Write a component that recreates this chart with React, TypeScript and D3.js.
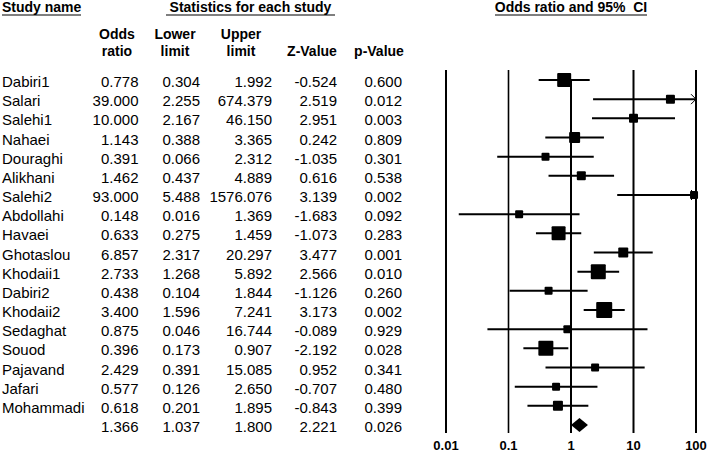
import React from "react";
import * as d3 from "d3";

const studies = ["Dabiri1","Salari","Salehi1","Nahaei","Douraghi","Alikhani","Salehi2","Abdollahi","Havaei","Ghotaslou","Khodaii1","Dabiri2","Khodaii2","Sedaghat","Souod","Pajavand","Jafari","Mohammadi",""];
const oddsRatio = [0.778,39.0,10.0,1.143,0.391,1.462,93.0,0.148,0.633,6.857,2.733,0.438,3.4,0.875,0.396,2.429,0.577,0.618,1.366];
const lowerLimit = [0.304,2.255,2.167,0.388,0.066,0.437,5.488,0.016,0.275,2.317,1.268,0.104,1.596,0.046,0.173,0.391,0.126,0.201,1.037];
const upperLimit = [1.992,674.379,46.15,3.365,2.312,4.889,1576.076,1.369,1.459,20.297,5.892,1.844,7.241,16.744,0.907,15.085,2.65,1.895,1.8];
const zValue = [-0.524,2.519,2.951,0.242,-1.035,0.616,3.139,-1.683,-1.073,3.477,2.566,-1.126,3.173,-0.089,-2.192,0.952,-0.707,-0.843,2.221];
const pValue = [0.6,0.012,0.003,0.809,0.301,0.538,0.002,0.092,0.283,0.001,0.01,0.26,0.002,0.929,0.028,0.341,0.48,0.399,0.026];
const markerWeight = [14,9,9,11,8,9,8,8,14,10,15,8,16,8,15,8,8,10];
const tickValues = [0.01,0.1,1,10,100];
const tickLabels = ["0.01","0.1","1","10","100"];

const FONT = "'Liberation Sans', Arial, sans-serif";

export default function App() {
  const x = d3.scaleLog().domain([0.01, 100]).range([446, 696]);
  const y = d3.scalePoint<number>().domain(d3.range(studies.length)).range([80, 425]);
  const nStudies = studies.length - 1;
  const fmt = (v: number) => v.toFixed(3);
  const cols = [
    { vals: oddsRatio, right: 138.5 },
    { vals: lowerLimit, right: 200 },
    { vals: upperLimit, right: 272 },
    { vals: zValue, right: 337 },
    { vals: pValue, right: 402 },
  ];
  const [xmin, xmax] = x.range();
  const lineTop = 70, lineBottom = 433;

  return (
    <svg width={709} height={453} style={{ position: "absolute", left: 0, top: 0, background: "#fff" }} fontFamily={FONT}>
      <rect width={709} height={453} fill="#fff" />
      {/* headers */}
      <text x={2} y={12} fontSize={14} fontWeight="bold">Study name</text>
      <line x1={2} x2={81} y1={15} y2={15} stroke="#000" strokeWidth={1.2} />
      <text x={250.5} y={12} fontSize={14} fontWeight="bold" textAnchor="middle">Statistics for each study</text>
      <line x1={166} x2={335} y1={15} y2={15} stroke="#000" strokeWidth={1.2} />
      <text x={571} y={12} fontSize={14} fontWeight="bold" textAnchor="middle">Odds ratio and 95%{"\u00a0\u00a0"}CI</text>
      <line x1={495} x2={647} y1={15} y2={15} stroke="#000" strokeWidth={1.2} />

      <g fontSize={14} fontWeight="bold" textAnchor="middle">
        <text x={117} y={39}>Odds</text>
        <text x={117} y={56}>ratio</text>
        <text x={175} y={39}>Lower</text>
        <text x={175} y={56}>limit</text>
        <text x={241} y={39}>Upper</text>
        <text x={241} y={56}>limit</text>
        <text x={312} y={56}>Z-Value</text>
        <text x={379} y={56}>p-Value</text>
      </g>

      {/* table */}
      <g fontSize={15}>
        {studies.map((s, i) => (
          <g key={i}>
            <text x={2} y={(y(i) as number) + 7}>{s}</text>
            {cols.map((c, j) => (
              <text key={j} x={c.right} y={(y(i) as number) + 7} textAnchor="end">{fmt(c.vals[i])}</text>
            ))}
          </g>
        ))}
      </g>

      {/* vertical reference lines */}
      {tickValues.map((t, i) => (
        <line key={i} x1={x(t)} x2={x(t)} y1={t === 1 ? (y(0) as number) : lineTop} y2={lineBottom}
          stroke="#000" strokeWidth={t === 0.1 ? 1.6 : 2} />
      ))}

      {/* study CIs */}
      {d3.range(nStudies).map((i) => {
        const yy = y(i) as number;
        const lo = Math.max(lowerLimit[i], 0.01);
        const hi = Math.min(upperLimit[i], 100);
        const sz = markerWeight[i];
        return (
          <g key={i}>
            <line x1={x(lo)} x2={x(hi)} y1={yy} y2={yy} stroke="#000" strokeWidth={2} />
            {upperLimit[i] > 100 && (
              <polyline points={`${xmax - 5},${yy - 5} ${xmax},${yy} ${xmax - 5},${yy + 5}`} fill="none" stroke="#000" strokeWidth={1} />
            )}
            {lowerLimit[i] < 0.01 && (
              <polyline points={`${xmin + 5},${yy - 5} ${xmin},${yy} ${xmin + 5},${yy + 5}`} fill="none" stroke="#000" strokeWidth={1} />
            )}
            <rect x={x(oddsRatio[i]) - sz / 2} y={yy - sz / 2} width={sz} height={sz} fill="#000" rx={1} />
          </g>
        );
      })}

      {/* summary diamond */}
      {(() => {
        const i = nStudies;
        const yy = y(i) as number;
        const pts = [
          [x(lowerLimit[i]) - 1, yy],
          [x(oddsRatio[i]), yy - 7],
          [x(upperLimit[i]) + 1, yy],
          [x(oddsRatio[i]), yy + 7],
        ];
        return <polygon points={pts.map((p) => p.join(",")).join(" ")} fill="#000" />;
      })()}

      {/* tick labels */}
      <g fontSize={13} fontWeight="bold" textAnchor="middle">
        {tickValues.map((t, i) => (
          <text key={i} x={x(t)} y={450}>{tickLabels[i]}</text>
        ))}
      </g>
    </svg>
  );
}
